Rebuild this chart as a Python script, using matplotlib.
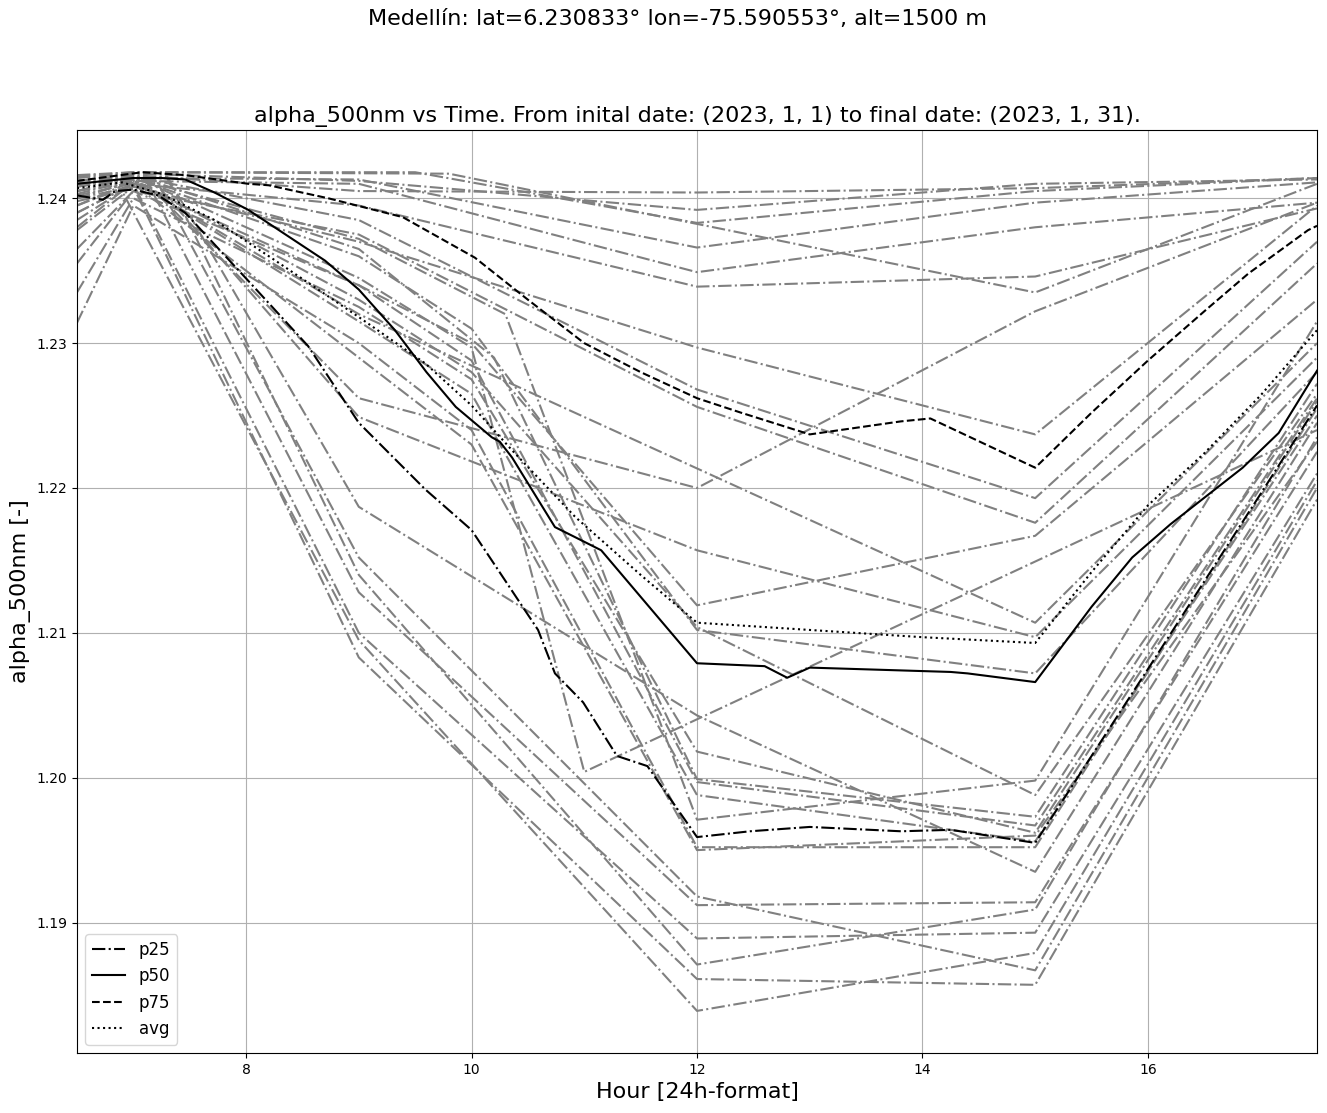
import matplotlib
matplotlib.use('Agg')
import matplotlib.pyplot as plt

# daily curves: hour knots and alpha_500nm values (one list per day)
day_hours = [
    [6.5, 7.0, 9.0, 12.0, 15.0, 17.5],
    [6.5, 7.0, 9.5, 12.0, 15.0, 17.5],
    [6.5, 7.0, 9.0, 12.0, 15.0, 17.5],
    [6.5, 7.0, 9.0, 12.0, 15.0, 17.5],
    [6.5, 7.0, 9.0, 12.0, 15.0, 17.5],
    [6.5, 7.0, 9.8, 15.0, 17.5],
    [6.5, 7.0, 9.0, 12.0, 15.0, 17.5],
    [6.5, 7.0, 9.0, 12.0, 15.0, 17.5],
    [6.5, 7.0, 9.0, 12.0, 15.0, 17.5],
    [6.5, 7.0, 9.0, 12.0, 15.0, 17.5],
    [6.5, 7.1, 9.0, 12.0, 15.0, 17.5],
    [6.5, 7.0, 9.0, 15.0, 17.5],
    [6.5, 7.2, 9.0, 12.0, 15.0, 17.5],
    [6.5, 7.0, 9.0, 10.0, 12.0, 15.0, 17.5],
    [6.5, 7.0, 9.0, 10.0, 12.0, 15.0, 17.5],
    [6.5, 7.0, 9.0, 10.0, 12.0, 15.0, 17.5],
    [6.5, 7.0, 9.0, 10.0, 11.0, 17.5],
    [6.5, 7.3, 9.0, 12.0, 15.0, 17.5],
    [6.5, 7.0, 9.0, 10.0, 12.0, 15.0, 17.5],
    [6.5, 7.0, 9.0, 10.2, 12.0, 15.0, 17.5],
    [6.5, 7.0, 9.0, 10.0, 12.0, 15.0, 17.5],
    [6.5, 7.0, 9.0, 10.3, 12.0, 15.0, 17.5],
    [6.5, 7.0, 9.0, 10.0, 12.0, 15.0, 17.5],
    [6.5, 7.0, 9.0, 10.0, 12.0, 15.0, 17.5],
    [6.5, 7.0, 9.0, 10.0, 12.0, 15.0, 17.5],
    [6.5, 7.2, 9.0, 12.0, 15.0, 17.5],
    [6.5, 7.1, 9.0, 12.0, 15.0, 17.5],
    [6.5, 7.0, 9.0, 12.0, 15.0, 17.5],
    [6.5, 7.3, 9.0, 12.0, 15.0, 17.5],
    [6.5, 7.0, 9.0, 12.0, 15.0, 17.5],
    [6.5, 6.9, 9.0, 12.0, 15.0, 17.5],
]
day_alpha = [
    [1.2412, 1.2416, 1.2405, 1.2404, 1.2407, 1.2414],
    [1.2415, 1.2418, 1.2418, 1.2383, 1.2405, 1.2414],
    [1.2405, 1.2414, 1.2413, 1.2366, 1.2397, 1.2411],
    [1.2395, 1.2412, 1.2410, 1.2349, 1.2380, 1.2397],
    [1.2385, 1.2410, 1.2395, 1.2339, 1.2346, 1.2393],
    [1.2416, 1.2418, 1.2417, 1.2335, 1.2410],
    [1.2414, 1.2417, 1.2412, 1.2392, 1.2410, 1.2413],
    [1.2378, 1.2408, 1.2370, 1.2297, 1.2237, 1.2395],
    [1.2410, 1.2415, 1.2385, 1.2268, 1.2193, 1.2370],
    [1.2365, 1.2405, 1.2375, 1.2256, 1.2176, 1.2355],
    [1.2402, 1.2412, 1.2262, 1.2200, 1.2322, 1.2397],
    [1.2400, 1.2412, 1.2320, 1.2107, 1.2300],
    [1.2398, 1.2410, 1.2249, 1.2157, 1.2097, 1.2290],
    [1.2390, 1.2410, 1.2340, 1.2300, 1.2119, 1.2167, 1.2330],
    [1.2408, 1.2414, 1.2360, 1.2310, 1.2102, 1.2072, 1.2280],
    [1.2403, 1.2413, 1.2330, 1.2280, 1.2104, 1.1988, 1.2265],
    [1.2405, 1.2415, 1.2345, 1.2297, 1.2004, 1.2240],
    [1.2410, 1.2415, 1.2187, 1.2043, 1.1935, 1.2245],
    [1.2335, 1.2400, 1.2325, 1.2275, 1.2018, 1.1962, 1.2260],
    [1.2412, 1.2416, 1.2365, 1.2290, 1.1999, 1.1973, 1.2272],
    [1.2355, 1.2405, 1.2340, 1.2288, 1.1997, 1.1967, 1.2262],
    [1.2408, 1.2414, 1.2372, 1.2320, 1.1971, 1.1998, 1.2315],
    [1.2400, 1.2412, 1.2315, 1.2265, 1.1988, 1.1956, 1.2250],
    [1.2314, 1.2395, 1.2300, 1.2240, 1.1952, 1.1952, 1.2255],
    [1.2390, 1.2410, 1.2290, 1.2230, 1.1950, 1.1960, 1.2232],
    [1.2405, 1.2413, 1.2152, 1.1918, 1.1867, 1.2200],
    [1.2412, 1.2415, 1.2128, 1.1912, 1.1914, 1.2225],
    [1.2395, 1.2410, 1.2100, 1.1889, 1.1893, 1.2210],
    [1.2410, 1.2414, 1.2140, 1.1871, 1.1909, 1.2235],
    [1.2400, 1.2408, 1.2083, 1.1861, 1.1857, 1.2192],
    [1.2380, 1.2405, 1.2095, 1.1839, 1.1879, 1.2205],
]

# statistics across days
p25_hours = [6.5, 6.73, 6.84, 7.0, 7.22, 7.46, 8.02, 8.55, 9.0, 9.59, 10.0, 10.59,
             10.74, 10.99, 11.29, 11.56, 12.0, 12.47, 13.0, 13.81, 14.25, 15.0,
             16.0, 17.0, 17.5]
p25_vals = [1.2402, 1.2399, 1.2405, 1.2406, 1.2402, 1.2390, 1.2343, 1.2298, 1.2245,
            1.2199, 1.2171, 1.2102, 1.2072, 1.2052, 1.2015, 1.2008, 1.1959, 1.1963,
            1.1966, 1.1963, 1.1964, 1.1955, 1.2075, 1.2196, 1.2257]

p50_hours = [6.5, 6.75, 7.0, 7.25, 7.46, 7.72, 8.02, 8.35, 8.7, 9.0, 9.32, 9.6,
             9.86, 10.18, 10.25, 10.36, 10.74, 10.92, 11.15, 12.0, 12.6, 12.8,
             13.0, 14.25, 14.4, 15.0, 15.5, 15.86, 16.2, 16.84, 17.16, 17.5]
p50_vals = [1.2410, 1.2412, 1.2414, 1.2414, 1.2413, 1.2404, 1.2392, 1.2375, 1.2357,
            1.2337, 1.2309, 1.2280, 1.2256, 1.2235, 1.2232, 1.2221, 1.2173, 1.2166,
            1.2157, 1.2079, 1.2077, 1.2069, 1.2076, 1.2073, 1.2072, 1.2066, 1.2118,
            1.2152, 1.2175, 1.2214, 1.2238, 1.2281]

p75_hours = [6.5, 7.08, 7.46, 8.02, 8.2, 8.73, 9.39, 10.03, 10.5, 11.0, 11.5, 12.0,
             12.39, 13.0, 13.81, 14.07, 15.0, 15.5, 16.0, 16.5, 16.89, 17.42, 17.5]
p75_vals = [1.2412, 1.2418, 1.2416, 1.2410, 1.2409, 1.2400, 1.2387, 1.2359, 1.2330,
            1.2300, 1.2280, 1.2262, 1.2252, 1.2237, 1.2246, 1.2248, 1.2214, 1.2252,
            1.2288, 1.2322, 1.2348, 1.2378, 1.2381]

avg_hours = [6.5, 6.9, 7.25, 7.72, 8.26, 9.0, 9.59, 10.0, 10.36, 10.92, 11.5, 12.0,
             13.0, 14.0, 15.0, 15.5, 16.0, 16.5, 17.0, 17.5]
avg_vals = [1.2407, 1.2411, 1.2403, 1.2385, 1.2357, 1.2318, 1.2286, 1.2257, 1.2226,
            1.2180, 1.2140, 1.2107, 1.2102, 1.2097, 1.2093, 1.2142, 1.2188, 1.2224,
            1.2264, 1.2309]

y_ticks = [1.19, 1.20, 1.21, 1.22, 1.23, 1.24]
x_ticks = [8, 10, 12, 14, 16]


fig = plt.figure(figsize=(13.27, 11.13), dpi=100)
ax = fig.add_axes([0.058, 0.054, 0.9345, 0.829])

for hrs, vals in zip(day_hours, day_alpha):
    ax.plot(hrs, vals, color='gray', linestyle='-.', linewidth=1.5)

ax.plot(p25_hours, p25_vals, 'k-.', linewidth=1.5, label='p25')
ax.plot(p50_hours, p50_vals, 'k-', linewidth=1.5, label='p50')
ax.plot(p75_hours, p75_vals, 'k--', linewidth=1.5, label='p75')
ax.plot(avg_hours, avg_vals, 'k:', linewidth=1.5, label='avg')

ax.set_xlim(6.5, 17.5)
ax.set_ylim(1.1810, 1.2447)
ax.set_xticks(x_ticks)
ax.set_yticks(y_ticks)
ax.set_yticklabels([f"{t:.2f}" for t in y_ticks])
ax.grid(True)

ax.set_xlabel('Hour [24h-format]', fontsize=16)
ax.set_ylabel('alpha_500nm [-]', fontsize=16)
ax.set_title('alpha_500nm vs Time. From inital date: (2023, 1, 1) to final date: (2023, 1, 31).',
             fontsize=16)
fig.suptitle('Medellín: lat=6.230833° lon=-75.590553°, alt=1500 m', fontsize=16,
             x=0.5105, y=0.992)
ax.legend(loc='lower left', fontsize=12)

fig.savefig('out.png', dpi=100)
